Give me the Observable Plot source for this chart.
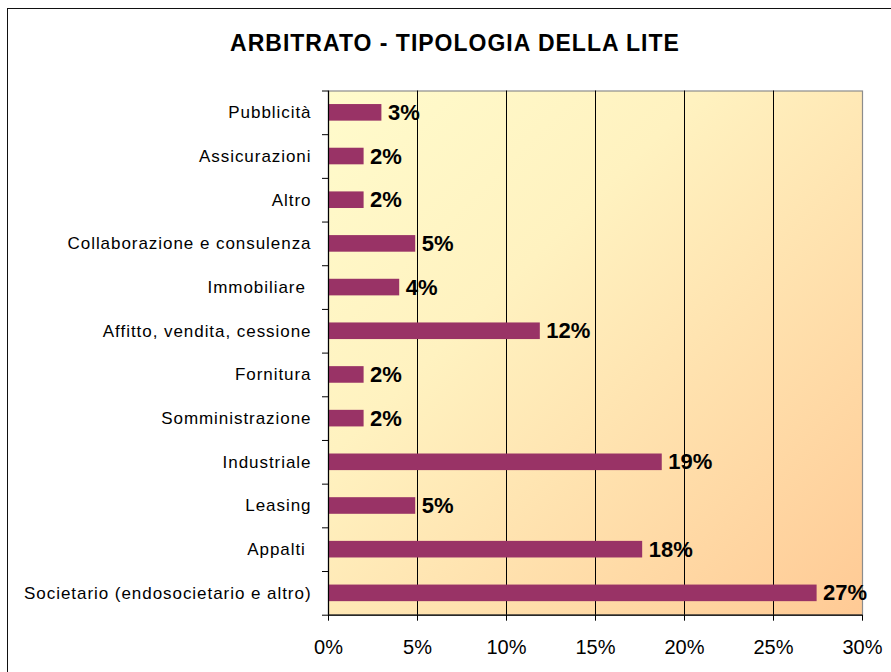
<!DOCTYPE html>
<html>
<head>
<meta charset="utf-8">
<script src="https://cdn.jsdelivr.net/npm/d3@7"></script>
<script src="https://cdn.jsdelivr.net/npm/@observablehq/plot@0.6"></script>
<style>
  html, body { margin: 0; padding: 0; background: #fff; width: 891px; height: 672px; overflow: hidden; }
  #wrap { position: relative; width: 891px; height: 672px; }
  #border { position: absolute; left: 7px; top: 8px; width: 1000px; height: 1000px; border: 1.5px solid #111; box-sizing: border-box; }
  #title { position: absolute; left: 0; top: 32px; width: 891px; padding-left: 19px; box-sizing: border-box; text-align: center;
           font: bold 23px "Liberation Sans", Arial, sans-serif; line-height: 23px; letter-spacing: 1px; color: #000; }
  #chart { position: absolute; left: 0; top: 0; }
  #chart svg g[aria-label="y-axis tick label"] text { letter-spacing: 0.95px; white-space: pre; }
</style>
</head>
<body>
<div id="wrap">
  <div id="border"></div>
  <div id="chart"></div>
  <div id="title">ARBITRATO - TIPOLOGIA DELLA LITE</div>
</div>
<script>
const categories = [
  "Pubblicità",
  "Assicurazioni",
  "Altro",
  "Collaborazione e consulenza",
  "Immobiliare ",
  "Affitto, vendita, cessione",
  "Fornitura",
  "Somministrazione",
  "Industriale",
  "Leasing",
  "Appalti ",
  "Societario (endosocietario e altro)"
];
const values = [3.0, 2.0, 2.0, 4.9, 4.0, 11.9, 2.0, 2.0, 18.75, 4.9, 17.65, 27.45];
const xTicks = [0, 5, 10, 15, 20, 25, 30];

const data = categories.map((c, i) => ({category: c, value: values[i]}));

const W = 891, H = 672, mT = 90.5, mB = 57.3, mL = 328, mR = 29;
const step = (H - mT - mB) / categories.length;
const kx = (W - mL - mR) / (xTicks[xTicks.length - 1] - xTicks[0]);
const tickLen = 6 / kx;

const svg = Plot.plot({
  width: W, height: H,
  marginTop: mT, marginBottom: mB, marginLeft: mL, marginRight: mR,
  style: {fontFamily: "'Liberation Sans', Arial, sans-serif", background: "transparent", color: "#000", overflow: "visible"},
  x: {domain: [xTicks[0], xTicks[xTicks.length - 1]]},
  y: {domain: categories, paddingInner: 0.62, paddingOuter: 0.31, round: false},
  marks: [
    Plot.frame({fill: "url(#bgGrad)", stroke: "#8c8c8c", strokeWidth: 1.2}),
    Plot.ruleX(xTicks.slice(1, -1), {stroke: "#000", strokeWidth: 1}),
    Plot.barX(data, {x: "value", y: "category", fill: "#993366"}),
    Plot.text(data, {x: "value", y: "category", text: d => Math.round(d.value) + "%", dx: 6, textAnchor: "start",
      fontWeight: "bold", fontSize: 22, fill: "#000"}),
    Plot.ruleX([xTicks[0]], {stroke: "#000", strokeWidth: 1.2}),
    Plot.ruleY([categories[categories.length - 1]], {dy: step / 2, stroke: "#000", strokeWidth: 1.2}),
    Plot.ruleY(categories, {y: d => d, dy: -step / 2, x1: -tickLen, x2: 0, stroke: "#000"}),
    Plot.ruleY([categories[categories.length - 1]], {y: d => d, dy: step / 2, x1: -tickLen, x2: 0, stroke: "#000"}),
    Plot.axisX({ticks: xTicks, tickFormat: d => d + "%", tickSize: 6, tickPadding: 19, fontSize: 20, label: null}),
    Plot.axisY({tickSize: 0, tickPadding: 17, fontSize: 17, label: null})
  ]
});

d3.select(svg).insert("defs", ":first-child").html(`
  <linearGradient id="bgGrad" x1="0" y1="0" x2="1" y2="1">
    <stop offset="0" stop-color="#FFFBCC"/>
    <stop offset="0.35" stop-color="#FFF2C0"/>
    <stop offset="1" stop-color="#FFCA95"/>
  </linearGradient>`);

document.getElementById("chart").appendChild(svg);
</script>
</body>
</html>
